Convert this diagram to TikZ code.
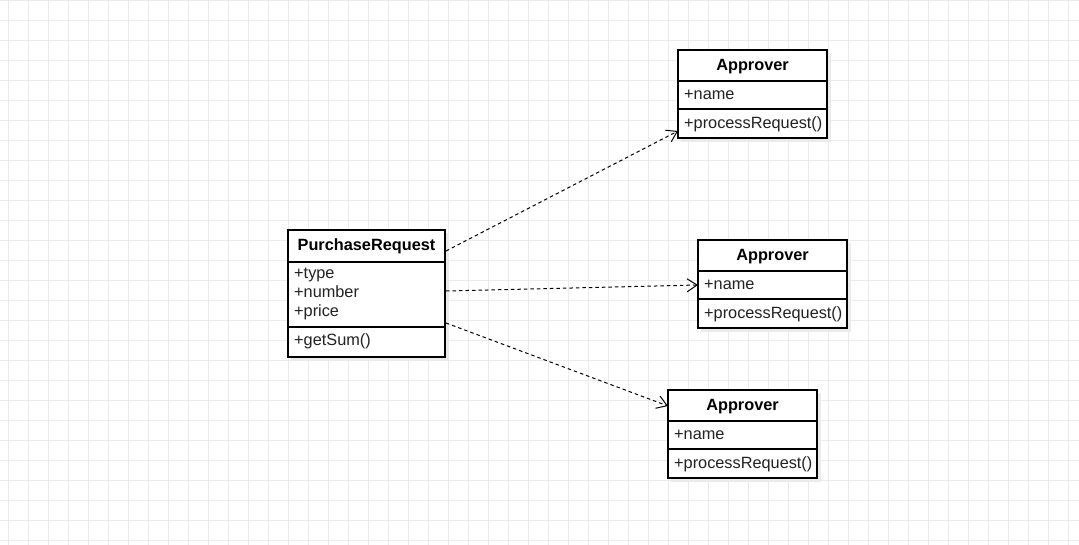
\documentclass[tikz,border=0pt]{standalone}
\usepackage{fontspec}
\setmainfont{Liberation Sans}
\usetikzlibrary{arrows.meta}
\begin{document}
\begin{tikzpicture}[x=1pt,y=-1pt,
  gridline/.style={draw={rgb,255:red,235;green,235;blue,235},line width=0.8pt},
  boxline/.style={draw=black,line width=1.2pt},
  shadowbox/.style={fill={rgb,255:red,235;green,235;blue,235},draw=none},
  hdr/.style={font=\fontsize{16.3}{19}\selectfont\bfseries,inner sep=0pt,anchor=center,text height=11.7pt,text depth=3.4pt},
  attr/.style={font=\fontsize{16.3}{19}\selectfont,inner sep=0pt,anchor=west,text height=11.7pt,text depth=3.4pt,text={rgb,255:red,34;green,34;blue,34}},
  dep/.style={draw=black,line width=1pt,dash pattern=on 3.5pt off 3pt,-{Straight Barb[length=10pt,width=13pt,line width=1pt]}}
]
\useasboundingbox (0,0) rectangle (1079,545);
\fill[white] (0,0) rectangle (1079,545);
\foreach \x in {8,28,...,1078} \draw[gridline] (\x,0) -- (\x,545);
\foreach \y in {0,20,...,540} \draw[gridline] (0,\y) -- (1079,\y);

% shadows
\fill[shadowbox] (291,233) rectangle (449,361);
\fill[shadowbox] (681,53) rectangle (831,142);
\fill[shadowbox] (701,243) rectangle (851,332);
\fill[shadowbox] (671,393) rectangle (821,482);

% PurchaseRequest
\fill[white] (288,230) rectangle (445,357);
\draw[boxline] (288,230) rectangle (445,357);
\draw[boxline] (288,262) -- (445,262);
\draw[boxline] (288,327) -- (445,327);
\node[hdr] (prh) at (366.5,246.5) {PurchaseRequest};
\node[attr] (pr1) at (294,274.5) {+type};
\node[attr] (pr2) at (294,293.5) {+number};
\node[attr] (pr3) at (294,312.5) {+price};
\node[attr] (pr4) at (294,341.5) {+getSum()};
\coordinate (pa) at (446,251);
\coordinate (pb) at (446,291);
\coordinate (pc) at (446,323);

% Approver boxes
\foreach \n/\x/\y in {A/678/50,B/698/240,C/668/390}{
  \fill[white] (\x,\y) rectangle (\x+149,\y+88);
  \draw[boxline] (\x,\y) rectangle (\x+149,\y+88);
  \draw[boxline] (\x,\y+31) -- (\x+149,\y+31);
  \draw[boxline] (\x,\y+59) -- (\x+149,\y+59);
  \node[hdr] (\n h) at (\x+74.5,\y+16.5) {Approver};
  \node[attr] (\n 1) at (\x+6,\y+45.5) {+name};
  \node[attr] (\n 2) at (\x+6,\y+74.5) {+processRequest()};
}
\coordinate (ta) at (678,131);
\coordinate (tb) at (698,285);
\coordinate (tc) at (668,406);

\draw[dep] (pa) -- (ta);
\draw[dep] (pb) -- (tb);
\draw[dep] (pc) -- (tc);
\end{tikzpicture}
\end{document}
